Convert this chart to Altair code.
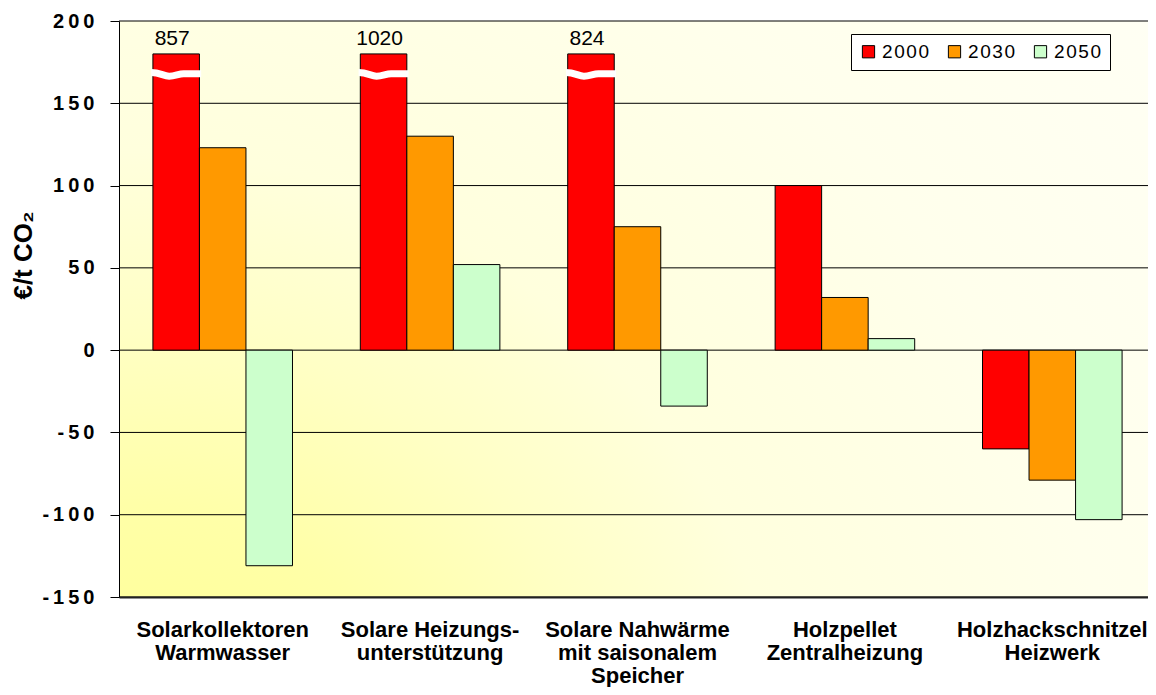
import altair as alt
import pandas as pd

# ---- data ----
categories = [
    "Solarkollektoren\nWarmwasser",
    "Solare Heizungs-\nunterstützung",
    "Solare Nahwärme\nmit saisonalem\nSpeicher",
    "Holzpellet\nZentralheizung",
    "Holzhackschnitzel\nHeizwerk",
]
years = ["2000", "2030", "2050"]
v2000 = [857, 1020, 824, 100, -60]
v2030 = [123, 130, 75, 32, -79]
v2050 = [-131, 52, -34, 7, -103]
y_ticks = [-150, -100, -50, 0, 50, 100, 150, 200]
colors = ["#FF0000", "#FF9900", "#CCFFCC"]
cap = 180          # bars above this are drawn broken at the cap
break_at = 168     # where the break symbol sits

W, H = 1029, 576     # visible plot area (page width limits it)
XR = 1037            # full category range (extends to the window edge)

rows = []
for yr, vals in zip(years, [v2000, v2030, v2050]):
    for c, v in zip(categories, vals):
        rows.append({"cat": c, "year": yr, "value": v, "shown": min(v, cap),
                     "broken": v > cap, "brk": break_at, "label": str(v)})
df = pd.DataFrame(rows)

FONT = "Liberation Sans"

xscale = alt.Scale(domain=categories, range=[0, XR], paddingInner=0.327, paddingOuter=0.1635)
xenc = alt.X("cat:N", sort=categories, title=None, scale=xscale,
             axis=alt.Axis(labelExpr="split(datum.label, '\\n')", labelAngle=0,
                           labelFont=FONT, labelFontWeight="bold", labelFontSize=22,
                           labelColor="black", labelLineHeight=23, labelPadding=22,
                           labelBaseline="top", labelLimit=400,
                           ticks=False, domainColor="#222", domainWidth=2,
                           grid=False, zindex=1))
xoff = alt.XOffset("year:N", sort=years, scale=alt.Scale(paddingInner=0, paddingOuter=0))
yscale = alt.Scale(domain=[-150, 200], nice=False, zero=False)
ytitle = "€/t CO₂"

yaxis = alt.Axis(values=y_ticks, grid=False, zindex=1,
                 labelExpr="join(split(replace(datum.label, '\u2212', '-'), ''), '\u2009')",
                 labelFont=FONT, labelFontWeight="bold", labelFontSize=20,
                 labelColor="black", labelPadding=16,
                 tickSize=9, tickColor="black", domainColor="black",
                 titleFont=FONT, titleFontWeight="bold", titleFontSize=26,
                 titleColor="black", titleAngle=270, titleX=-96, titleY=234,
                 titleAlign="center", titleBaseline="middle")

background = alt.Chart(alt.Data(values=[{}])).mark_rect(
    fill={"gradient": "radial", "x1": 0, "y1": 1, "r1": 0, "x2": 0, "y2": 1, "r2": 1.42,
          "stops": [{"offset": 0, "color": "#FFFF99"},
                    {"offset": 0.12, "color": "#FFFF99"},
                    {"offset": 0.22, "color": "#FFFFA8"},
                    {"offset": 0.34, "color": "#FFFFC5"},
                    {"offset": 0.46, "color": "#FFFFDD"},
                    {"offset": 0.68, "color": "#FFFFEC"},
                    {"offset": 1, "color": "#FFFFF8"}]},
    strokeWidth=0,
).encode(x=alt.value(0), x2=alt.value(XR), y=alt.value(0), y2=alt.value(H))

grid = alt.Chart(pd.DataFrame({"shown": y_ticks})).mark_rule(
    color="black", strokeWidth=1
).encode(y=alt.Y("shown:Q", scale=yscale, title=ytitle, axis=yaxis),
         x=alt.value(0), x2=alt.value(XR))

bars = alt.Chart(df).mark_bar(stroke="black", strokeWidth=1, opacity=1).encode(
    x=xenc,
    xOffset=xoff,
    y=alt.Y("shown:Q", scale=yscale, title=ytitle, axis=yaxis),
    y2=alt.datum(0),
    color=alt.Color("year:N", sort=years, scale=alt.Scale(domain=years, range=colors),
                    legend=alt.Legend(title=None, orient="none", legendX=732, legendY=13,
                                      direction="horizontal", columns=3,
                                      fillColor="white", strokeColor="black",
                                      padding=8, symbolType="square", symbolSize=150,
                                      symbolStrokeColor="black", symbolStrokeWidth=1,
                                      symbolOpacity=1,
                                      labelExpr="join(split(datum.label, ''), '\u200a')",
                                      labelFont=FONT, labelFontSize=19, labelColor="black",
                                      labelOffset=4, columnPadding=15)),
)

wave = "M -1 -0.05 C -0.65 -0.05 -0.5 0.1 -0.28 0.1 C -0.05 0.1 0.1 0.0 0.3 0.0 L 1 0"
breaks = alt.Chart(df).transform_filter("datum.broken").mark_point(
    shape=wave, filled=False, stroke="white", strokeWidth=7, size=2500, opacity=1
).encode(x=alt.X("cat:N", sort=categories, scale=xscale), xOffset=xoff,
         y=alt.Y("brk:Q", scale=yscale))

labels = alt.Chart(df).transform_filter("datum.broken").mark_text(
    font=FONT, fontSize=21, color="black", baseline="bottom", dy=-5, dx=-4
).encode(x=alt.X("cat:N", sort=categories, scale=xscale), xOffset=xoff,
         y=alt.Y("shown:Q", scale=yscale), text="label:N")

chart = alt.layer(background, grid, bars, breaks, labels).properties(
    width=W, height=H,
    autosize=alt.AutoSizeParams(type="none"),
    padding={"left": 111, "top": 13, "right": 0, "bottom": 90},
).configure_view(stroke=None)

chart.save("out.html", embed_options={"renderer": "svg", "actions": False})
